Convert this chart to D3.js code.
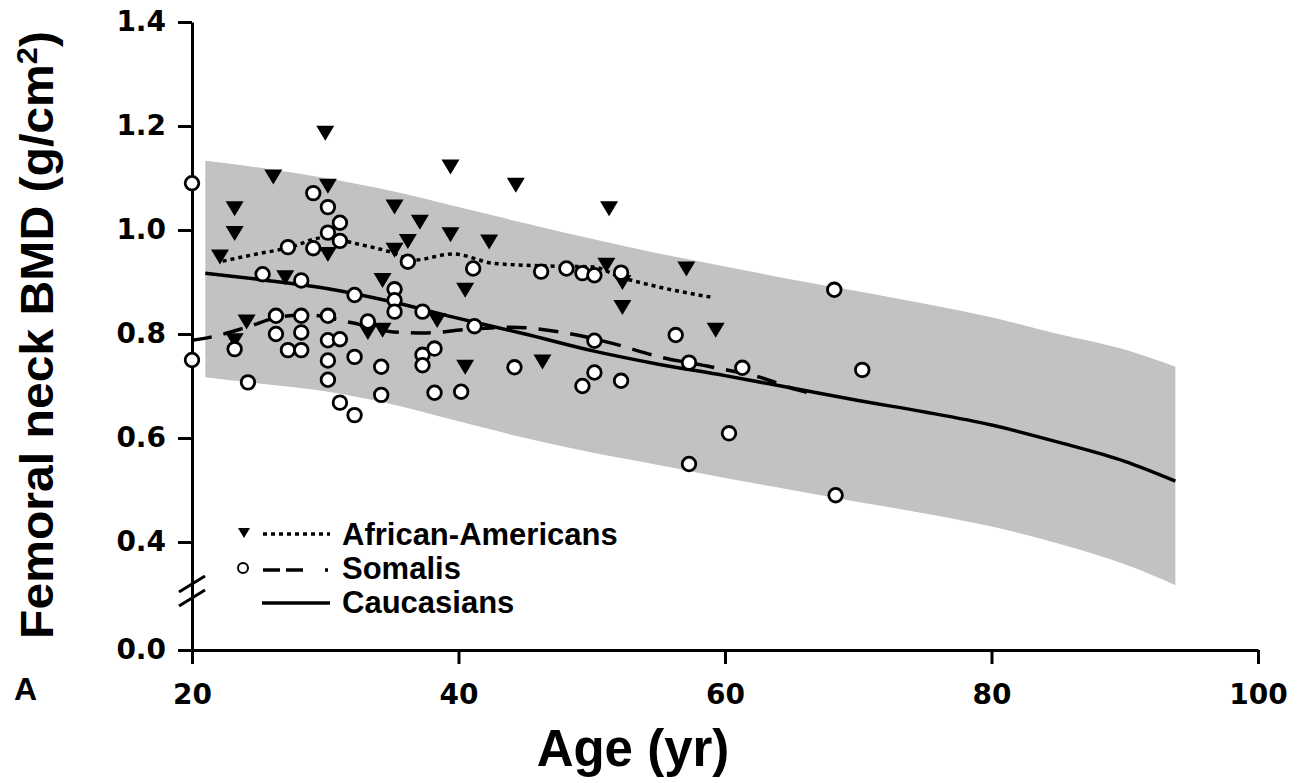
<!DOCTYPE html>
<html>
<head>
  <meta charset="utf-8">
  <script src="https://d3js.org/d3.v7.min.js"></script>
  <style>
    body { margin: 0; background: #fff; }
    text { font-family: "Liberation Sans", Arial, sans-serif; font-weight: bold; fill: #000; }
    .tick text { font-family: "DejaVu Sans", sans-serif; font-weight: bold; font-size: 28px; }
  </style>
</head>
<body>
<div id="chart"></div>
<script>
  // African-Americans (triangles)
  var afAge = [22.1, 23.2, 23.2, 23.2, 24.1, 26.1, 27.0, 30.0, 30.2, 30.2, 33.2, 34.3, 34.3, 35.2, 35.2, 36.2,
               37.1, 38.4, 39.4, 39.4, 40.5, 40.5, 42.3, 44.3, 46.3, 51.3, 51.1, 52.3, 52.3, 57.1, 59.3];
  var afBmd = [0.949, 1.042, 0.994, 0.788, 0.824, 1.103, 0.909, 1.187, 1.085, 0.954, 0.804, 0.904, 0.808, 1.045, 0.962, 0.979,
               1.016, 0.827, 1.122, 0.992, 0.885, 0.737, 0.978, 1.087, 0.747, 1.042, 0.933, 0.900, 0.852, 0.926, 0.808];

  // Somalis (open circles)
  var soAge = [20.0, 20.0, 23.2, 24.2, 25.3, 26.3, 26.3, 27.2, 27.2, 28.2, 28.2, 28.2, 28.2, 29.1, 29.1, 30.2,
               30.2, 30.2, 30.2, 30.2, 30.2, 31.1, 31.1, 31.1, 31.1, 32.2, 32.2, 32.2, 33.2, 34.2, 34.2, 35.2,
               35.2, 35.2, 36.2, 37.3, 37.3, 37.3, 38.2, 38.2, 40.2, 41.1, 41.2, 44.2, 46.2, 48.1, 49.3, 49.3,
               50.2, 50.2, 50.2, 52.2, 52.2, 56.3, 57.3, 57.3, 60.3, 61.3, 68.2, 68.3, 70.3];
  var soBmd = [1.090, 0.750, 0.771, 0.707, 0.915, 0.835, 0.800, 0.967, 0.769, 0.903, 0.835, 0.803, 0.769, 1.071, 0.965, 1.044,
               0.995, 0.835, 0.788, 0.749, 0.712, 1.014, 0.979, 0.790, 0.668, 0.875, 0.756, 0.644, 0.824, 0.737, 0.683, 0.886,
               0.865, 0.843, 0.939, 0.843, 0.760, 0.740, 0.772, 0.687, 0.689, 0.926, 0.815, 0.736, 0.920, 0.926, 0.917, 0.700,
               0.913, 0.787, 0.726, 0.918, 0.710, 0.798, 0.745, 0.550, 0.609, 0.735, 0.885, 0.490, 0.731];

  // smoothed group curves
  var afLineAge = [22.3, 24.5, 27.1, 30.1, 32.1, 35.1, 36.6, 39.6, 42.6, 46.4, 50.1, 52.1, 55.1, 58.9];
  var afLineBmd = [0.940, 0.952, 0.965, 0.986, 0.975, 0.956, 0.942, 0.954, 0.936, 0.931, 0.929, 0.910, 0.890, 0.871];
  var soLineAge = [20.0, 21.4, 24.1, 26.6, 28.6, 32.1, 35.1, 37.6, 40.3, 43.9, 47.6, 51.4, 55.1, 58.9, 62.6, 65.5, 66.5];
  var soLineBmd = [0.788, 0.794, 0.813, 0.833, 0.837, 0.821, 0.804, 0.802, 0.808, 0.813, 0.804, 0.783, 0.756, 0.737, 0.717, 0.692, 0.686];

  // Caucasian reference curve and shaded band
  var refAge   = [21, 25, 30, 35, 40, 45, 50, 55, 60, 65, 70, 75, 80, 85, 90, 93.8];
  var refMean  = [0.917, 0.905, 0.888, 0.862, 0.830, 0.800, 0.768, 0.742, 0.720, 0.696, 0.672, 0.650, 0.625, 0.592, 0.555, 0.517];
  var refUpper = [1.133, 1.120, 1.100, 1.075, 1.044, 1.013, 0.983, 0.955, 0.930, 0.905, 0.882, 0.858, 0.832, 0.800, 0.770, 0.737];
  var refLower = [0.717, 0.705, 0.690, 0.665, 0.632, 0.600, 0.572, 0.548, 0.523, 0.500, 0.477, 0.455, 0.430, 0.397, 0.357, 0.317];

  var xTicks = [20, 40, 60, 80, 100];
  var yTicks = [0.0, 0.4, 0.6, 0.8, 1.0, 1.2, 1.4];

  var width = 1307, height = 783;
  var svg = d3.select("#chart").append("svg")
    .attr("width", width)
    .attr("height", height);

  var x = d3.scaleLinear().domain([20, 100]).range([192, 1258]);
  // broken axis: 0.0 sits just below the break
  var y = d3.scaleLinear().domain([0, 0.3, 1.4]).range([650, 594, 22]);

  // band
  var band = d3.area()
    .x(function (d) { return x(d[0]); })
    .y0(function (d) { return y(d[2]); })
    .y1(function (d) { return y(d[1]); })
    .curve(d3.curveMonotoneX);
  svg.append("path")
    .datum(refAge.map(function (a, i) { return [a, refUpper[i], refLower[i]]; }))
    .attr("d", band)
    .attr("fill", "#c2c2c2");

  var line = d3.line()
    .x(function (d) { return x(d[0]); })
    .y(function (d) { return y(d[1]); })
    .curve(d3.curveMonotoneX);

  function pairs(a, b) { return a.map(function (v, i) { return [v, b[i]]; }); }

  svg.append("path")
    .datum(pairs(refAge, refMean))
    .attr("d", line)
    .attr("fill", "none").attr("stroke", "#000").attr("stroke-width", 3.5);

  svg.append("path")
    .datum(pairs(soLineAge, soLineBmd))
    .attr("d", line)
    .attr("fill", "none").attr("stroke", "#000").attr("stroke-width", 3.5)
    .attr("stroke-dasharray", "20,12");

  svg.append("path")
    .datum(pairs(afLineAge, afLineBmd))
    .attr("d", line)
    .attr("fill", "none").attr("stroke", "#000").attr("stroke-width", 3.5)
    .attr("stroke-dasharray", "4,4");

  // axes
  var xAxis = svg.append("g")
    .attr("transform", "translate(0,650)")
    .call(d3.axisBottom(x).tickValues(xTicks).tickSize(14).tickSizeOuter(0).tickPadding(20));
  var yAxis = svg.append("g")
    .attr("transform", "translate(192,0)")
    .call(d3.axisLeft(y).tickValues(yTicks).tickFormat(d3.format(".1f")).tickSize(14).tickSizeOuter(0).tickPadding(12));
  svg.selectAll(".domain, .tick line").attr("stroke", "#000").attr("stroke-width", 3);

  // break marks on the y axis
  [584, 598].forEach(function (yy) {
    svg.append("line")
      .attr("x1", 179).attr("y1", yy + 8)
      .attr("x2", 205).attr("y2", yy - 8)
      .attr("stroke", "#000").attr("stroke-width", 3);
  });

  // markers
  var tri = "M-9,-7L9,-7L0,8Z";
  svg.append("g").selectAll("path")
    .data(pairs(afAge, afBmd))
    .enter()
    .append("path")
      .attr("d", tri)
      .attr("transform", function (d) { return "translate(" + x(d[0]) + "," + y(d[1]) + ")"; })
      .attr("fill", "#000");

  svg.append("g").selectAll("circle")
    .data(pairs(soAge, soBmd))
    .enter()
    .append("circle")
      .attr("cx", function (d) { return x(d[0]); })
      .attr("cy", function (d) { return y(d[1]); })
      .attr("r", 6.8)
      .attr("fill", "#fff")
      .attr("stroke", "#000")
      .attr("stroke-width", 2.8);

  // legend
  var lg = svg.append("g");
  lg.append("path").attr("d", "M-6,-5L6,-5L0,5Z").attr("transform", "translate(244,533)").attr("fill", "#000");
  lg.append("line").attr("x1", 263).attr("x2", 330).attr("y1", 534).attr("y2", 534)
    .attr("stroke", "#000").attr("stroke-width", 3.5).attr("stroke-dasharray", "4,4");
  lg.append("circle").attr("cx", 243).attr("cy", 568).attr("r", 5)
    .attr("fill", "#fff").attr("stroke", "#000").attr("stroke-width", 2);
  lg.append("line").attr("x1", 263).attr("x2", 330).attr("y1", 570).attr("y2", 570)
    .attr("stroke", "#000").attr("stroke-width", 3.5).attr("stroke-dasharray", "17,6,17,22,3,10");
  lg.append("line").attr("x1", 262).attr("x2", 330).attr("y1", 603).attr("y2", 603)
    .attr("stroke", "#000").attr("stroke-width", 3.5);
  var legendNames = ["African-Americans", "Somalis", "Caucasians"];
  lg.selectAll("text")
    .data(legendNames)
    .enter()
    .append("text")
      .attr("x", 342)
      .attr("y", function (d, i) { return [545, 579, 613][i]; })
      .style("font-size", "31px")
      .text(function (d) { return d; });

  // titles
  svg.append("text")
    .attr("transform", "translate(53,335) rotate(-90)")
    .attr("text-anchor", "middle")
    .attr("textLength", 608)
    .attr("lengthAdjust", "spacingAndGlyphs")
    .style("font-size", "47px")
    .html("Femoral neck BMD (g/cm<tspan dy='-16' font-size='30px'>2</tspan><tspan dy='16'>)</tspan>");

  svg.append("text")
    .attr("x", 633).attr("y", 766)
    .attr("text-anchor", "middle")
    .style("font-size", "51px")
    .text("Age (yr)");

  svg.append("text")
    .attr("x", 14).attr("y", 700)
    .style("font-size", "32px")
    .text("A");
</script>
</body>
</html>
